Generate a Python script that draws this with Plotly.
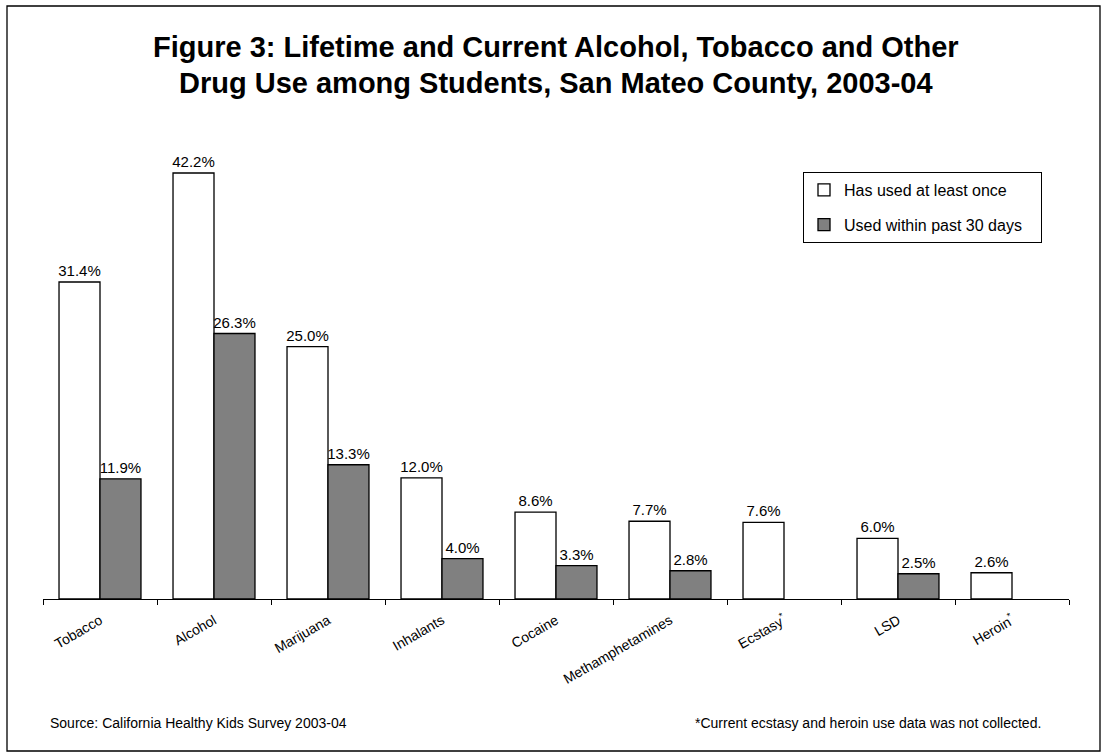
import plotly.graph_objects as go

categories = ["Tobacco", "Alcohol", "Marijuana", "Inhalants", "Cocaine",
              "Methamphetamines", "Ecstasy<sup>*</sup>", "LSD", "Heroin<sup>*</sup>"]
lifetime = [31.4, 42.2, 25.0, 12.0, 8.6, 7.7, 7.6, 6.0, 2.6]
current = [11.9, 26.3, 13.3, 4.0, 3.3, 2.8, None, 2.5, None]
series_names = ["Has used at least once", "Used within past 30 days"]

title_lines = ["Figure 3: Lifetime and Current Alcohol, Tobacco and Other",
               "Drug Use among Students, San Mateo County, 2003-04"]
source_note = "Source: California Healthy Kids Survey 2003-04"
footnote = "*Current ecstasy and heroin use data was not collected."

W, H = 1101, 752
L, R, T, B = 43, 32, 150, 153
PW, PH = W - L - R, H - T - B
FONT = "Arial, Liberation Sans, sans-serif"
NBSP = "\u00a0"


def px_x(p):
    return (p - L) / PW


def px_y(p):
    return (H - B - p) / PH


fig = go.Figure()
fig.add_trace(go.Bar(
    x=categories, y=lifetime, name=series_names[0], legendgroup="a",
    marker=dict(color="white", line=dict(color="black", width=1.3)),
    texttemplate="%{y:.1f}%", textposition="outside", constraintext="none",
    textfont=dict(size=15, color="black", family=FONT), cliponaxis=False,
))
fig.add_trace(go.Bar(
    x=categories, y=current, name=series_names[1] + NBSP * 3, legendgroup="b",
    marker=dict(color="#808080", line=dict(color="black", width=1.3)),
    texttemplate="%{y:.1f}%", textposition="outside", constraintext="none",
    textfont=dict(size=15, color="black", family=FONT), cliponaxis=False,
))

annotations = []
for line, cy in zip(title_lines, [47, 83]):
    annotations.append(dict(
        text="<b>%s</b>" % line, xref="paper", yref="paper",
        x=px_x(556), y=px_y(cy), xanchor="center", yanchor="middle",
        showarrow=False, font=dict(size=29, family=FONT, color="black")))
annotations.append(dict(
    text=source_note, xref="paper", yref="paper", x=px_x(48), y=px_y(723),
    xanchor="left", yanchor="middle", showarrow=False,
    font=dict(size=14, family=FONT, color="black")))
annotations.append(dict(
    text=footnote, xref="paper", yref="paper", x=px_x(1043), y=px_y(723),
    xanchor="right", yanchor="middle", showarrow=False,
    font=dict(size=14, family=FONT, color="black")))

fig.update_layout(
    width=W, height=H,
    margin=dict(l=L, r=R, t=T, b=B, pad=0),
    paper_bgcolor="white", plot_bgcolor="white",
    font=dict(family=FONT, color="black"),
    barmode="group", bargap=0.281, bargroupgap=0,
    legend=dict(
        x=px_x(803), y=px_y(172), xanchor="left", yanchor="top",
        bordercolor="black", borderwidth=1, bgcolor="white",
        font=dict(size=16, family=FONT, color="black"),
        tracegroupgap=11, traceorder="grouped",
    ),
    xaxis=dict(
        showline=True, linecolor="black", linewidth=1,
        ticks="outside", tickson="boundaries", ticklen=5, tickcolor="black",
        tickangle=-30, tickfont=dict(size=14, family=FONT, color="black"),
        ticklabelstandoff=7,
        showgrid=False, zeroline=False,
    ),
    yaxis=dict(
        range=[0, PH / 10.095], visible=False, showgrid=False, zeroline=False,
    ),
    annotations=annotations,
    shapes=[
        dict(type="rect", xref="paper", yref="paper",
             x0=px_x(7), x1=px_x(1100), y0=px_y(751), y1=px_y(6),
             line=dict(color="black", width=1.3), fillcolor="rgba(0,0,0,0)",
             layer="above"),
    ],
    showlegend=True,
)

fig.write_html("out.html")
